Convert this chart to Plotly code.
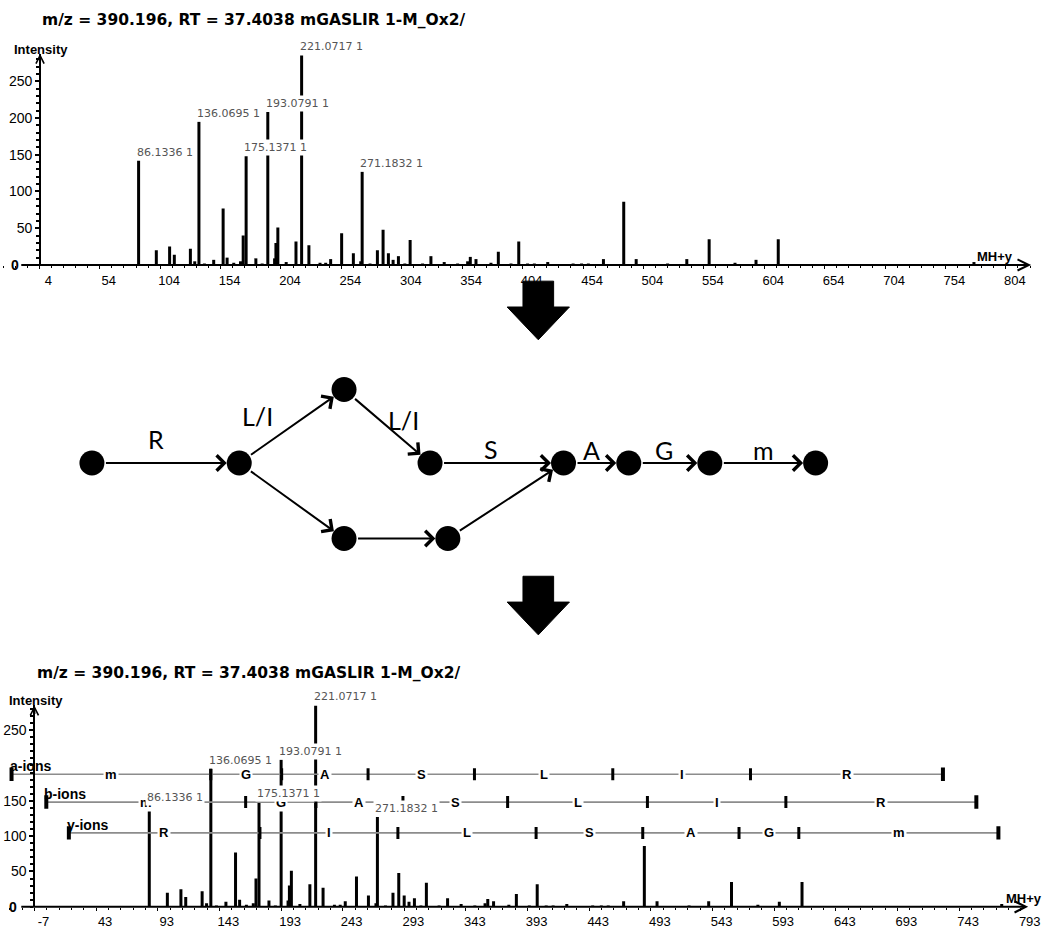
import plotly.graph_objects as go

W, H = 1055, 929

# ---------------- data ----------------
TITLE = "m/z = 390.196, RT = 37.4038 mGASLIR 1-M_Ox2/"

PEAK_MZ = [86.1336, 100.8, 111.8, 115.7, 129.0, 132.6, 136.0695, 140.6, 148.3, 156.1,
           159.4, 164.9, 170.5, 172.7, 175.1371, 183.2, 188.4, 193.0791, 198.7, 199.8,
           201.4, 208.3, 216.4, 221.0717, 227.1, 236.3, 241.0, 245.1, 254.2, 263.9,
           270.0, 271.1832, 277.7, 283.8, 288.5, 292.9, 296.8, 301.2, 306.5, 310.9,
           321.2, 328.1, 339.1, 350.2, 358.5, 360.7, 365.4, 377.8, 383.9, 394.4,
           400.8, 408.1, 413.7, 424.8, 445.8, 452.8, 458.4, 470.9, 487.7, 498.0,
           524.0, 539.9, 558.4, 579.8, 597.2, 615.6, 777.6]
PEAK_INT = [142, 20, 25, 14, 22, 5, 195, 2, 7, 77,
            10, 3, 5, 40, 148, 9, 2, 208, 9, 30,
            51, 4, 32, 285, 27, 3, 3, 8, 43, 16,
            5, 127, 2, 20, 48, 16, 7, 12, 2, 34,
            2, 12, 4, 2, 5, 11, 8, 3, 18, 2,
            32, 2, 2, 4, 2, 2, 2, 8, 86, 8,
            2, 8, 35, 3, 7, 35, 4]
LABELED_MZ = [86.1336, 136.0695, 175.1371, 193.0791, 221.0717, 271.1832]
LABELED_CHARGE = [1, 1, 1, 1, 1, 1]

TOP_TICKS = [4, 54, 104, 154, 204, 254, 304, 354, 404, 454, 504, 554, 604, 654, 704, 754, 804]
BOT_TICKS = [-7, 43, 93, 143, 193, 243, 293, 343, 393, 443, 493, 543, 593, 643, 693, 743, 793]
TOP_Y_TICKS = [50, 100, 150, 200, 250]
BOT_Y_TICKS = [50, 100, 150, 250]   # the 200 label is covered by the a-ions label in the original

ION_NAMES = ["a-ions", "b-ions", "y-ions"]
ION_LEVELS = [187.6, 148.2, 104.6]
ION_BOUNDS = [
    [-25.6, 136.0, 193.5, 263.6, 349.9, 462.1, 573.8, 729.9],
    [2.6, 164.3, 221.3, 291.9, 376.8, 490.2, 602.5, 757.0],
    [20.9, 175.9, 287.8, 399.9, 486.4, 564.5, 613.0, 774.9],
]
ION_RESIDUES = [list("mGASLIR"), list("mGASLIR"), list("RILSAGm")]

# spectrum-graph diagram
NODE_X = [93, 242, 348, 435, 348, 453, 570, 636, 718, 825]
NODE_Y = [466, 466, 392, 466, 542, 542, 466, 466, 466, 466]
EDGE_FROM = [0, 1, 2, 3, 1, 4, 5, 6, 7, 8]
EDGE_TO = [1, 2, 3, 6, 4, 5, 6, 7, 8, 9]
EDGE_LABEL = ["R", "L/I", "L/I", "S", "", "", "", "A", "G", "m"]
EDGE_LABEL_OFFSET = [(-10, -24), (-35, -10), (17, -6), (-6, -14), (0, 0), (0, 0), (0, 0),
                     (-5, -13), (-5, -13), (1, -13)]

# ---------------- layout helpers ----------------
BOLD = "Liberation Sans, Arial, sans-serif"
fig = go.Figure()


def px_x(p):
    return p / W


def px_y(p):
    return 1 - p / H


PANELS = [
    dict(xa="x", ya="y", axis_px=40.5, base_px=266.7, top_px=54.0, v0=4.55, ppu=1.222, right_px=1043,
         ticks=TOP_TICKS, yticks=TOP_Y_TICKS, ytop=287.5,
         title_px=(40, 20), inten_px=(12, 50), zero_px=(15, 266.7), mh_px=(1006, 258)),
    dict(xa="x2", ya="y2", axis_px=34.8, base_px=912.7, top_px=710.0, v0=-7.05, ppu=1.247, right_px=1040,
         ticks=BOT_TICKS, yticks=BOT_Y_TICKS, ytop=285.0,
         title_px=(35, 677), inten_px=(7, 705), zero_px=(13, 913), mh_px=(1036, 904)),
]

stick_x, stick_y = [], []
for m, h in zip(PEAK_MZ, PEAK_INT):
    stick_x += [m, m, None]
    stick_y += [0, h, None]

layout_axes = {}
annotations = []
for i, P in enumerate(PANELS):
    sfx = "" if i == 0 else "2"
    ytop = P["ytop"]
    vleft = P["v0"] - P["axis_px"] / P["ppu"]
    vright = P["v0"] + (P["right_px"] - P["axis_px"]) / P["ppu"]
    layout_axes["xaxis" + sfx] = dict(
        domain=[0, P["right_px"] / W], range=[vleft, vright], anchor=P["ya"],
        showgrid=False, zeroline=False, showline=False,
        tickmode="array", tickvals=P["ticks"], ticktext=[str(t) for t in P["ticks"]],
        ticks="outside", ticklen=3, tickcolor="black", tickwidth=1,
        minor=dict(tick0=P["ticks"][0], dtick=10, ticks="outside", ticklen=2, tickcolor="black"),
        tickfont=dict(family=BOLD, size=13, color="black"), ticklabelshift=9,
    )
    layout_axes["yaxis" + sfx] = dict(
        domain=[px_y(P["base_px"]), px_y(P["top_px"])], range=[0, ytop],
        anchor="free", position=P["axis_px"] / W,
        showgrid=False, zeroline=False, showline=True, linewidth=2, linecolor="black",
        tickmode="array", tickvals=P["yticks"], ticks="outside", ticklen=4, tickwidth=2, tickcolor="black",
        minor=dict(tick0=0, dtick=10, ticks="outside", ticklen=3, tickcolor="black"),
        tickfont=dict(family=BOLD, size=14, color="black"),
    )
    # peaks
    fig.add_trace(go.Scatter(x=stick_x, y=stick_y, mode="lines", xaxis=P["xa"], yaxis=P["ya"],
                             line=dict(color="black", width=3), hoverinfo="skip", showlegend=False))
    # baseline with arrow
    annotations.append(dict(x=vright, y=0, ax=P["v0"] - (P["axis_px"] - 20) / P["ppu"], ay=0,
                            xref=P["xa"], yref=P["ya"], axref=P["xa"], ayref=P["ya"], text="",
                            showarrow=True, arrowhead=5, arrowsize=1.1, arrowwidth=2, arrowcolor="black"))
    # y axis arrow
    annotations.append(dict(x=P["axis_px"] / W, y=ytop, xref="paper", yref=P["ya"], ax=0, ay=10,
                            text="", showarrow=True, arrowhead=5, arrowsize=0.8, arrowwidth=2,
                            arrowcolor="black"))
    # texts
    annotations.append(dict(x=px_x(P["title_px"][0]), y=px_y(P["title_px"][1]), xref="paper", yref="paper",
                            text=TITLE, showarrow=False, xanchor="left", yanchor="middle",
                            font=dict(family="DejaVu Sans", size=15.5, color="black", weight="bold")))
    annotations.append(dict(x=px_x(P["inten_px"][0]), y=px_y(P["inten_px"][1]), xref="paper", yref="paper",
                            text="Intensity", showarrow=False, xanchor="left", yanchor="middle",
                            font=dict(family=BOLD, size=13, color="black", weight="bold")))
    annotations.append(dict(x=px_x(P["zero_px"][0]), y=px_y(P["zero_px"][1]), xref="paper", yref="paper",
                            text="0", showarrow=False, xanchor="center", yanchor="middle",
                            font=dict(family=BOLD, size=14, color="black", weight="bold")))
    annotations.append(dict(x=px_x(P["mh_px"][0]), y=px_y(P["mh_px"][1]), xref="paper", yref="paper",
                            text="MH+y", showarrow=False, xanchor="center", yanchor="middle",
                            font=dict(family=BOLD, size=13, color="black", weight="bold")))
    # ion ladders (bottom panel only), drawn before peak labels
    if i == 1:
        for name, lvl, bnds, res in zip(ION_NAMES, ION_LEVELS, ION_BOUNDS, ION_RESIDUES):
            fig.add_trace(go.Scatter(x=[bnds[0], bnds[-1]], y=[lvl, lvl], mode="lines",
                                     xaxis=P["xa"], yaxis=P["ya"], line=dict(color="#8c8c8c", width=1.6),
                                     hoverinfo="skip", showlegend=False))
            tx, ty = [], []
            for b in bnds[1:-1]:
                tx += [b, b, None]
                ty += [lvl - 8.5, lvl + 8.5, None]
            fig.add_trace(go.Scatter(x=tx, y=ty, mode="lines", xaxis=P["xa"], yaxis=P["ya"],
                                     line=dict(color="black", width=3), hoverinfo="skip", showlegend=False))
            ex, ey = [], []
            for b in (bnds[0], bnds[-1]):
                ex += [b, b, None]
                ey += [lvl - 9.5, lvl + 9.5, None]
            fig.add_trace(go.Scatter(x=ex, y=ey, mode="lines", xaxis=P["xa"], yaxis=P["ya"],
                                     line=dict(color="black", width=4), hoverinfo="skip", showlegend=False))
            for k, r in enumerate(res):
                annotations.append(dict(x=(bnds[k] + bnds[k + 1]) / 2, y=lvl, xref=P["xa"], yref=P["ya"],
                                        text=r, showarrow=False, xanchor="center", yanchor="middle",
                                        bgcolor="white", borderpad=1,
                                        font=dict(family=BOLD, size=13, color="black", weight="bold")))
            annotations.append(dict(x=bnds[0], y=lvl, xref=P["xa"], yref=P["ya"], text=name,
                                    showarrow=False, xanchor="left", yanchor="middle", xshift=-4, yshift=8,
                                    font=dict(family=BOLD, size=14, color="black", weight="bold")))
    # peak labels
    for m, z in zip(LABELED_MZ, LABELED_CHARGE):
        h = PEAK_INT[PEAK_MZ.index(m)]
        annotations.append(dict(x=m, y=h, xref=P["xa"], yref=P["ya"], text=f"{m:.4f} {z}",
                                showarrow=False, xanchor="left", yanchor="bottom", xshift=-4, yshift=0,
                                bgcolor="white", borderpad=1,
                                font=dict(family="DejaVu Sans", size=11, color="#555555")))

# ---------------- diagram (pixel-space overlay axes) ----------------
layout_axes["xaxis3"] = dict(domain=[0, 1], range=[0, W], visible=False, anchor="y3", fixedrange=True)
layout_axes["yaxis3"] = dict(domain=[0, 1], range=[H, 0], visible=False, anchor="x3", fixedrange=True)

NODE_R = 12.5
for f, t, lab, (dx, dy) in zip(EDGE_FROM, EDGE_TO, EDGE_LABEL, EDGE_LABEL_OFFSET):
    annotations.append(dict(x=NODE_X[t], y=NODE_Y[t], ax=NODE_X[f], ay=NODE_Y[f],
                            xref="x3", yref="y3", axref="x3", ayref="y3", text="", showarrow=True,
                            arrowhead=4, arrowsize=1.5, arrowwidth=2, arrowcolor="black",
                            standoff=NODE_R, startstandoff=NODE_R))
    if lab:
        mx = (NODE_X[f] + NODE_X[t]) / 2 + dx
        my = (NODE_Y[f] + NODE_Y[t]) / 2 + dy
        annotations.append(dict(x=mx, y=my, xref="x3", yref="y3", text=lab, showarrow=False,
                                xanchor="center", yanchor="middle",
                                font=dict(family="Lato, Open Sans, sans-serif", size=25, color="black")))

fig.add_trace(go.Scatter(x=NODE_X, y=NODE_Y, mode="markers", xaxis="x3", yaxis="y3",
                         marker=dict(size=2 * NODE_R, color="black"), hoverinfo="skip", showlegend=False))

# big down arrows between panels
shapes = []
for top in (283, 580):
    pts = [(529, top), (560, top), (560, top + 26), (576, top + 26), (544.5, top + 59),
           (513, top + 26), (529, top + 26)]
    path = "M " + " L ".join(f"{x},{y}" for x, y in pts) + " Z"
    shapes.append(dict(type="path", path=path, xref="x3", yref="y3", fillcolor="black",
                       line=dict(color="black", width=1)))

fig.update_layout(
    width=W, height=H, autosize=False,
    margin=dict(l=0, r=0, t=0, b=0, pad=0),
    paper_bgcolor="white", plot_bgcolor="rgba(0,0,0,0)",
    showlegend=False, annotations=annotations, shapes=shapes,
    **layout_axes,
)

fig.write_html("out.html")
